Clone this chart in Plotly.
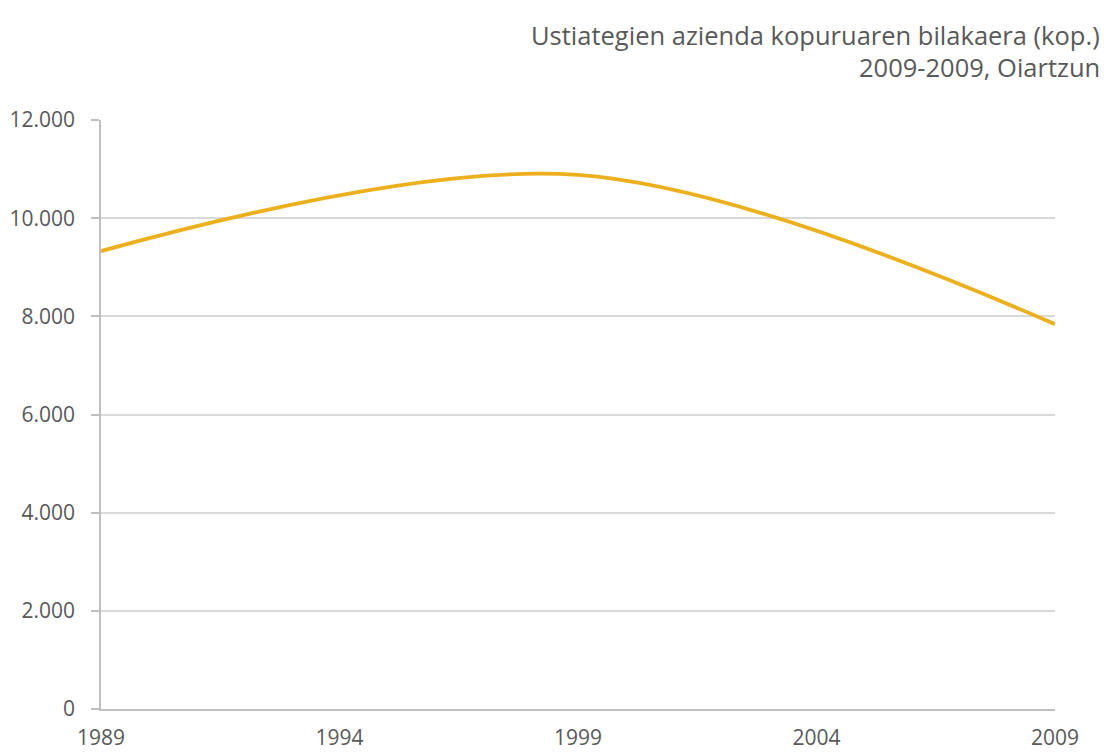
import plotly.graph_objects as go

years = [1989, 1999, 2009]
values = [9330, 10880, 7840]
y_ticks = [0, 2000, 4000, 6000, 8000, 10000, 12000]
x_ticks = [1989, 1994, 1999, 2004, 2009]
title_line1 = "Ustiategien azienda kopuruaren bilakaera (kop.)"
title_line2 = "2009-2009, Oiartzun"

# page body has 8px margin; figure coordinates are offset by 8px
OFF = 8
W, H = 1100, 744
L = 101 - OFF
T = 120 - OFF
R = W - (1055 - OFF)
B = H - (709 - OFF)

fig = go.Figure()
fig.add_trace(go.Scatter(
    x=years, y=values, mode="lines",
    line=dict(color="#ECB01F", width=3.8, shape="spline", smoothing=1.0),
    hoverinfo="x+y", showlegend=False,
))

font_family = "Open Sans, Liberation Sans, sans-serif"
fig.update_layout(
    width=W, height=H,
    margin=dict(l=L, r=R, t=T, b=B, autoexpand=False),
    paper_bgcolor="white", plot_bgcolor="white",
    separators=",.",
    font=dict(family=font_family, color="#595959", size=21),
    xaxis=dict(
        range=[1989, 2009], tickvals=x_ticks, ticktext=[str(v) for v in x_ticks],
        showgrid=False, zeroline=False, showline=True, linecolor="#BFBFBF", linewidth=1.5,
        ticks="", tickfont=dict(size=21, color="#595959"), ticklabelstandoff=9,
        automargin=False,
    ),
    yaxis=dict(
        range=[0, 12000], tickvals=y_ticks, tickformat=",d",
        showgrid=True, gridcolor="#D9D9D9", gridwidth=1.5, zeroline=False,
        showline=True, linecolor="#BFBFBF", linewidth=1.5,
        ticks="outside", ticklen=8, tickcolor="#BFBFBF", tickwidth=1.5,
        tickfont=dict(size=21, color="#595959"), ticklabelstandoff=12,
        automargin=False,
    ),
)

pw = W - L - R
ph = H - T - B
xr = (1102 - OFF - L) / pw
fig.add_annotation(text=title_line1, xref="paper", yref="paper",
                   x=xr, y=1 + (T - (35 - OFF)) / ph, xanchor="right", yanchor="middle",
                   showarrow=False, font=dict(size=25.5, color="#595959", family=font_family))
fig.add_annotation(text=title_line2, xref="paper", yref="paper",
                   x=xr, y=1 + (T - (67 - OFF)) / ph, xanchor="right", yanchor="middle",
                   showarrow=False, font=dict(size=25.5, color="#595959", family=font_family))

fig.write_html("out.html")
